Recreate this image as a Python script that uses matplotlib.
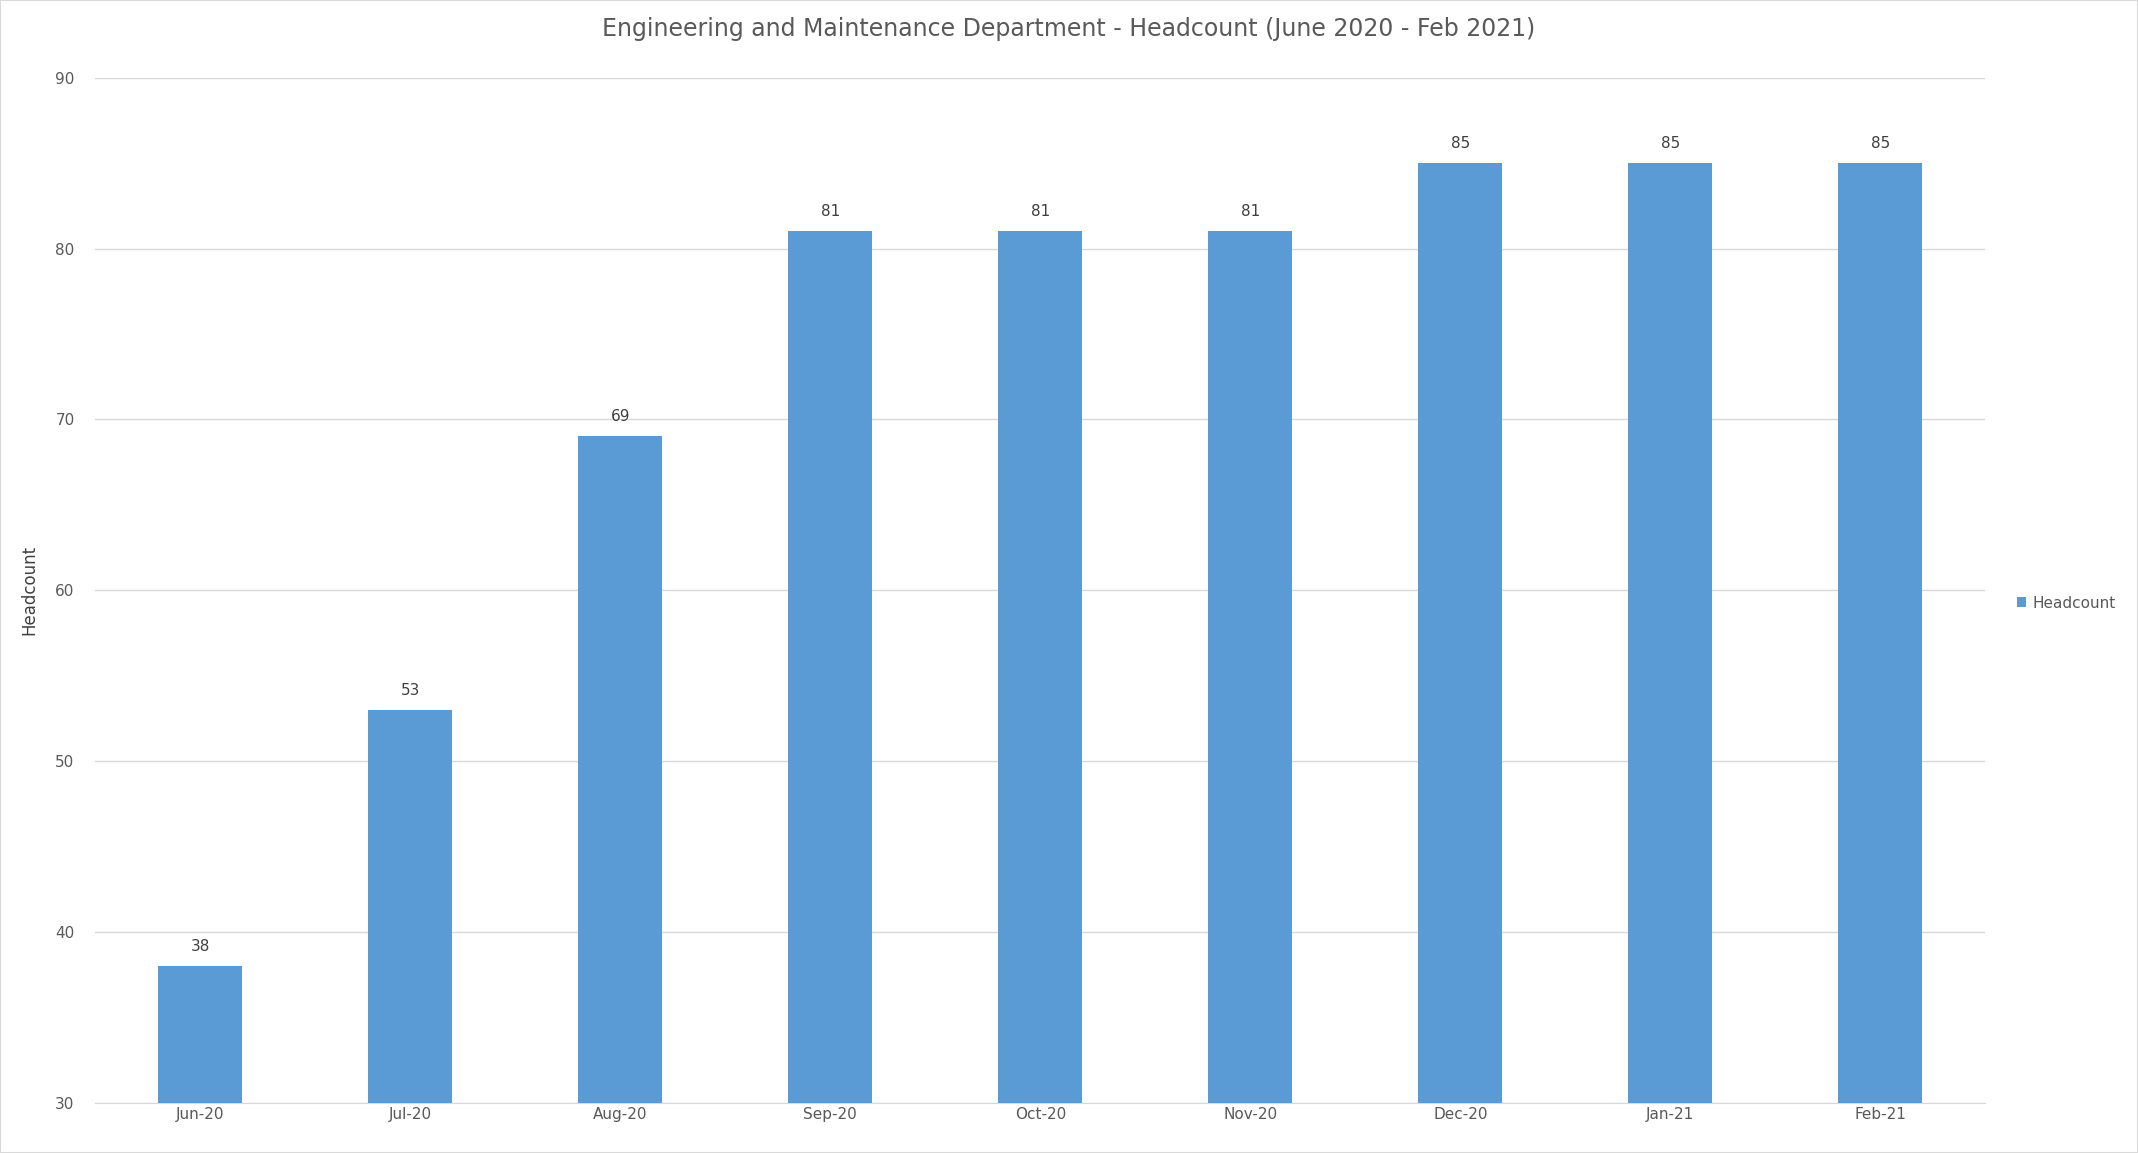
import matplotlib
matplotlib.use("Agg")
import matplotlib.pyplot as plt

months = ["Jun-20","Jul-20","Aug-20","Sep-20","Oct-20","Nov-20","Dec-20","Jan-21","Feb-21"]
headcount = [38,53,69,81,81,81,85,85,85]

fig = plt.figure(figsize=(21.38,11.53), dpi=100)
ax = fig.add_axes([0.0446,0.0437,0.8840,0.8889])
x = range(len(months))
bars = ax.bar(x, headcount, width=0.4, color="#5B9BD5", label="Headcount", zorder=3)
for xi, v in zip(x, headcount):
    ax.text(xi, v+0.7, str(v), ha="center", va="bottom", fontsize=11, color="#404040")
ax.set_ylim(30,90)
ax.set_xlim(-0.5, len(months)-0.5)
ax.set_yticks(range(30,91,10))
ax.set_xticks(list(x))
ax.set_xticklabels(months)
ax.tick_params(axis="both", colors="#595959", labelsize=11, length=0)
ax.tick_params(axis="y", pad=15)
ax.grid(axis="y", color="#D9D9D9", linewidth=1, zorder=0)
for s in ["top","right","left"]:
    ax.spines[s].set_visible(False)
ax.spines["bottom"].set_color("#D9D9D9")
ax.set_ylabel("Headcount", fontsize=12, color="#404040", labelpad=12)
fig.suptitle("Engineering and Maintenance Department - Headcount (June 2020 - Feb 2021)",
             y=0.985, fontsize=17, color="#595959")
fig.legend(handles=[bars], labels=["Headcount"], loc="center left",
           bbox_to_anchor=(0.937,0.477), frameon=False, fontsize=11,
           handlelength=0.6, handleheight=0.6, handletextpad=0.4, labelcolor="#595959")
fig.patches.append(matplotlib.patches.Rectangle((0,0),1,1,transform=fig.transFigure,
                   fill=False, edgecolor="#D9D9D9", linewidth=1.5))
fig.savefig("out.png", dpi=100)
